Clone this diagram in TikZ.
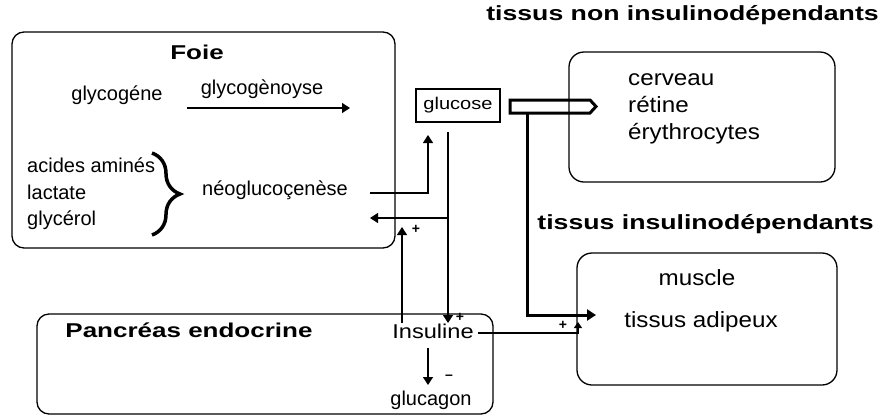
\documentclass[tikz,border=0pt]{standalone}
\usepackage{fontspec}
\setmainfont{Liberation Sans}
\newfontfamily\bfam{Liberation Sans}[FakeStretch=1.3]
\newfontfamily\wfam{Liberation Sans}[FakeStretch=1.1]
\newfontfamily\gfam{Liberation Sans}[FakeStretch=1.18]
\usetikzlibrary{arrows.meta,decorations.pathreplacing}
\tikzset{
  box/.style={draw, line width=1.3pt, rounded corners=12pt, inner sep=0pt},
  lbl/.style={inner sep=0pt, text height=0.7em, text depth=0.2em, font=\fontsize{20}{23}\selectfont},
  big/.style={lbl, font=\fontsize{22}{25}\wfam},
  ttl/.style={lbl, font=\fontsize{20.5}{24}\bfam\bfseries},
  sttl/.style={lbl, font=\fontsize{20}{23}\bfam\bfseries},
  sgn/.style={inner sep=0pt, font=\fontsize{14}{16}\selectfont\bfseries},
  conn/.style={line width=1.2pt, -{Triangle[length=8pt,width=10pt]}},
  connsmall/.style={line width=1.2pt, -{Triangle[length=6pt,width=8pt]}},
  thickconn/.style={line width=3pt, -{Triangle[length=9pt,width=11pt]}}
}
\begin{document}
\begin{tikzpicture}[x=1pt,y=-1pt]
\useasboundingbox (0,0) rectangle (880,416);
% boxes
\node[box, minimum width=383, minimum height=216] (foie) at (203.5,140) {};
\node[box, minimum width=456, minimum height=100] (panc) at (265,364) {};
\node[box, rounded corners=15pt, minimum width=266, minimum height=130] (nid) at (702,117) {};
\node[box, rounded corners=15pt, minimum width=260, minimum height=132] (idp) at (707,319) {};
\node[draw, line width=1.3pt, minimum width=84, minimum height=33, inner sep=0pt, font=\fontsize{17}{19}\gfam] (glu) at (458,105.5) {glucose};
% titles
\node[sttl] (tfoie) at (197,57) {Foie};
\node[sttl] (tpanc) at (189,335) {Pancréas endocrine};
\node[ttl] (tnid) at (682.5,18) {tissus non insulinodépendants};
\node[ttl] (tid) at (705.5,227) {tissus insulinodépendants};
% liver texts
\node[lbl] (glyc) at (117,98) {glycogéne};
\node[lbl] (glyl) at (262,92) {glycogènoyse};
\node[lbl, anchor=west] (aa) at (27,170) {acides aminés};
\node[lbl, anchor=west] (lac) at (27,197) {lactate};
\node[lbl, anchor=west] (gly) at (27,223) {glycérol};
\node[lbl] (neo) at (275,193) {néoglucoçenèse};
% right texts
\node[big, anchor=west] (cer) at (628,83) {cerveau};
\node[big, anchor=west] (ret) at (628,110) {rétine};
\node[big, anchor=west] (ery) at (628,137) {érythrocytes};
\node[big] (mus) at (697,283) {muscle};
\node[big] (adi) at (701,325) {tissus adipeux};
% pancreas texts
\node[lbl, font=\fontsize{20}{23}\gfam] (ins) at (433,336) {Insuline};
\node[lbl] (gcg) at (431,403) {glucagon};
% signs
\node[sgn] (s1) at (416,229) {+};
\node[sgn] (s2) at (460,317) {+};
\node[sgn] (s3) at (563,325) {+};
\node[sgn] (s4) at (449,377) {--};
% coordinates
\coordinate (g1) at (187,108); \coordinate (g2) at (350,108);
\coordinate (n1) at (370,193); \coordinate (n2) at (428,135);
\coordinate (d1) at (448,132); \coordinate (d2) at (448,323);
\coordinate (b1) at (448,218); \coordinate (b2) at (370,218);
\coordinate (u1) at (402,323); \coordinate (u2) at (402,227);
\coordinate (r1) at (478,333); \coordinate (r2) at (578,322);
\coordinate (c1) at (428,348); \coordinate (c2) at (428,385);
\coordinate (p1) at (510,100); \coordinate (p2) at (590,100);
\coordinate (p3) at (596,106.5); \coordinate (p4) at (590,113);
\coordinate (p5) at (510,113);
\coordinate (t1) at (527,114); \coordinate (t2) at (596,315);
\coordinate (br1) at (152,153); \coordinate (br2) at (152,235);
% connectors
\draw[conn] (g1) -- (g2);
\draw[conn] (n1) -| (n2);
\draw[line width=1.2pt] (d1) -- (b1);
\draw[conn] (b1) -- (d2);
\draw[conn] (b1) -- (b2);
\draw[conn] (u1) -- (u2);
\draw[connsmall] (r1) -| (r2);
\draw[conn] (c1) -- (c2);
\draw[line width=3pt, line join=miter] (p1) -- (p2) -- (p3) -- (p4) -- (p5) -- cycle;
\draw[thickconn] (t1) |- (t2);
\draw[line width=3.5pt, decorate, decoration={brace, amplitude=28pt}] (br1) -- (br2);
\end{tikzpicture}
\end{document}
